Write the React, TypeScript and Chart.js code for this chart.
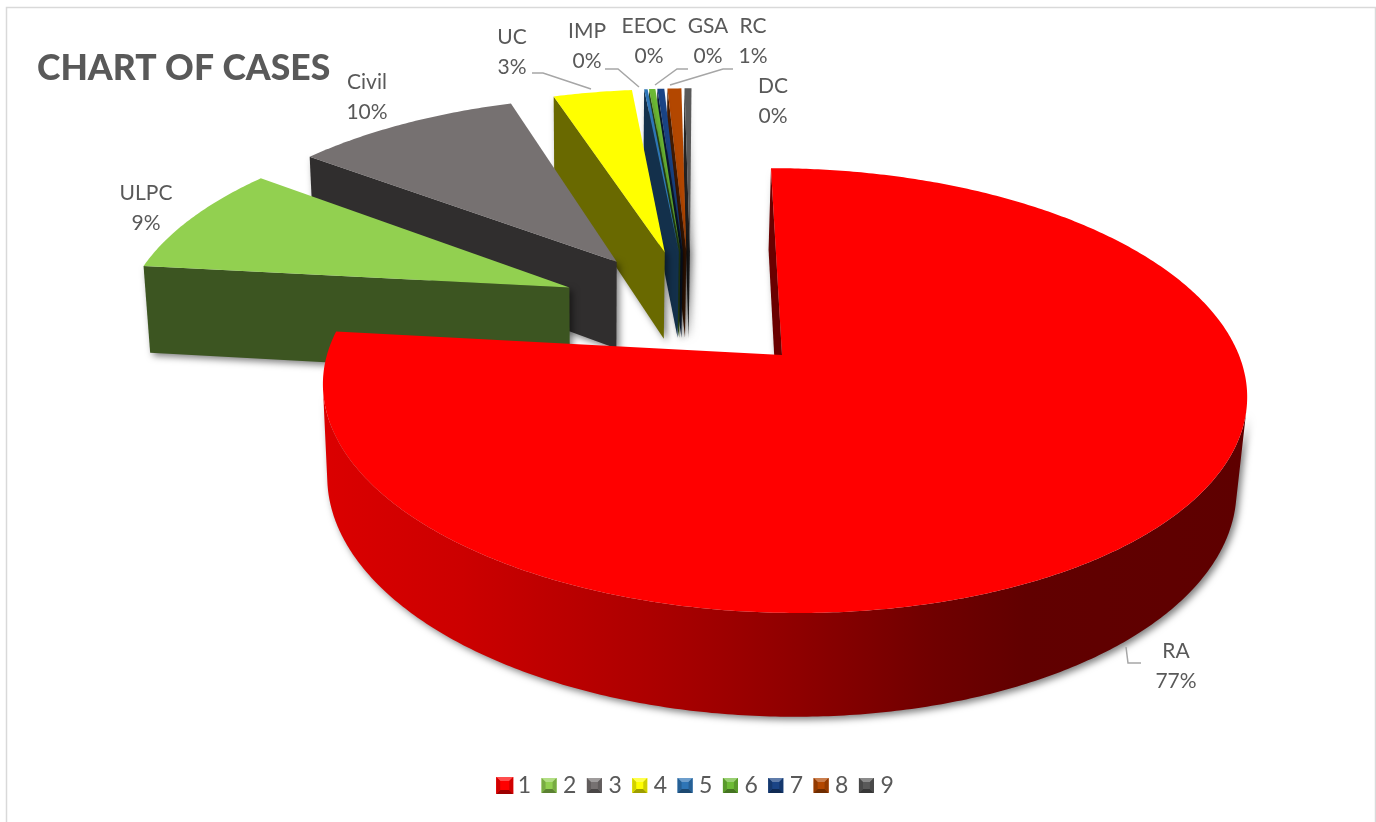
import React, { useEffect, useRef } from "react";
import { Chart, registerables } from "chart.js";

Chart.register(...registerables);

// Legend entries, case categories and their share of all cases (percent).
const legendKeys = ["1", "2", "3", "4", "5", "6", "7", "8", "9"];
const caseTypes = ["RA", "ULPC", "Civil", "UC", "IMP", "EEOC", "GSA", "RC", "DC"];
const caseShares = [76.9, 8.55, 9.7, 3.4, 0.15, 0.27, 0.3, 0.6, 0.3];
const sliceColors = ["#ff0000", "#92d050", "#767171", "#ffff00", "#2e75b6", "#6dbb35", "#1a4486", "#b34700", "#595959"];

// Two-line callouts: text centre, line rows, optional leader polyline.
const calloutStyle: { x: number; y: number; leader?: number[][] }[] = [
  { x: 1176, y: 651, leader: [[1126, 647], [1128, 663], [1141, 663]] },
  { x: 146, y: 193 },
  { x: 367, y: 82 },
  { x: 512, y: 37, leader: [[532, 73], [543, 73], [591, 89]] },
  { x: 587, y: 31, leader: [[605, 69], [618, 69], [639, 87]] },
  { x: 649, y: 26 },
  { x: 708, y: 26, leader: [[688, 69], [677, 69], [655, 85]] },
  { x: 753, y: 26, leader: [[733, 69], [723, 69], [670, 85]] },
  { x: 773, y: 86 },
];

const EXPLODE = 0.302;
const SATELLITE_RADIUS = 1.015;
const SATELLITE_SHIFT = { u: 0, v: 0.009 };
const LINE_GAP = 30;
const FONT = "Lato, 'Noto Sans', sans-serif";

// Camera: maps a point on the unit pie (u right, v towards viewer, z down) to the canvas.
const cam = { x0: 782, y0: 355, a: 456, b: 216.7, s: 12.8, p: 0.16, q: 0.002, r: 0.016, d: 93, t: -3 };
function project(u: number, v: number, z: number): [number, number] {
  const w = 1 - cam.p * v - cam.q * u + cam.r * z;
  return [cam.x0 + (cam.a * u + cam.s * v + cam.t * z) / w, cam.y0 + (cam.b * v + cam.d * z) / w];
}

function scaleColor(hex: string, f: number) {
  const n = parseInt(hex.slice(1), 16);
  const c = [(n >> 16) & 255, (n >> 8) & 255, n & 255].map((x) =>
    Math.round(f <= 1 ? x * f : x + (255 - x) * (f - 1))
  );
  return `rgb(${c[0]},${c[1]},${c[2]})`;
}

function tracePolygon(ctx: CanvasRenderingContext2D, pts: [number, number][]) {
  ctx.beginPath();
  pts.forEach((p, i) => (i ? ctx.lineTo(p[0], p[1]) : ctx.moveTo(p[0], p[1])));
  ctx.closePath();
}

function withShadow(ctx: CanvasRenderingContext2D, paint: () => void) {
  ctx.save();
  ctx.shadowColor = "rgba(0,0,0,0.5)";
  ctx.shadowBlur = 7;
  ctx.shadowOffsetX = 3;
  ctx.shadowOffsetY = 3;
  paint();
  ctx.restore();
}

const pie3d = {
  id: "pie3d",
  beforeDatasetsDraw(chart: any) {
    const ctx: CanvasRenderingContext2D = chart.ctx;
    const arcs = chart.getDatasetMeta(0).data;
    const midOf = (arc: any) => (arc.startAngle + arc.endAngle) / 2;
    const baseMid = midOf(arcs[0]);
    const baseU = EXPLODE * Math.cos(baseMid);
    const baseV = EXPLODE * Math.sin(baseMid);

    for (let i = arcs.length - 1; i >= 0; i--) {
      const arc = arcs[i];
      const color = sliceColors[i];
      const mid = midOf(arc);
      const cu = EXPLODE * Math.cos(mid) - baseU + (i === 0 ? 0 : SATELLITE_SHIFT.u);
      const cv = EXPLODE * Math.sin(mid) - baseV + (i === 0 ? 0 : SATELLITE_SHIFT.v);
      const radius = i === 0 ? 1 : SATELLITE_RADIUS;
      const at = (a: number, z: number) => project(cu + radius * Math.cos(a), cv + radius * Math.sin(a), z);
      const apex = (z: number) => project(cu, cv, z);

      const steps = Math.max(2, Math.ceil((arc.endAngle - arc.startAngle) / 0.01));
      const angles: number[] = [];
      for (let k = 0; k <= steps; k++) angles.push(arc.startAngle + ((arc.endAngle - arc.startAngle) * k) / steps);

      // Radial wall on the leading edge of the slice
      ctx.fillStyle = scaleColor(color, 0.41);
      withShadow(ctx, () => {
        tracePolygon(ctx, [at(arc.startAngle, 0), apex(0), apex(1), at(arc.startAngle, 1)]);
        ctx.fill();
      });

      // Curved outer wall: only the stretch that faces the camera
      const facing = angles.slice(0, -1).map((a, k) => {
        const t0 = at(a, 0);
        const t1 = at(angles[k + 1], 0);
        const b0 = at(a, 1);
        return (t1[0] - t0[0]) * (b0[1] - t0[1]) - (t1[1] - t0[1]) * (b0[0] - t0[0]) < 0;
      });
      const first = facing.indexOf(true);
      const last = facing.lastIndexOf(true);
      if (first >= 0) {
        const run = angles.slice(first, last + 2);
        const pts = [...run.map((a) => at(a, 0)), ...run.slice().reverse().map((a) => at(a, 1))];
        const grad = ctx.createLinearGradient(323, 0, 1247, 0);
        [[0, 0.86], [0.15, 0.8], [0.35, 0.68], [0.5, 0.57], [0.66, 0.44], [0.76, 0.38], [1, 0.37]].forEach(([o, f]) =>
          grad.addColorStop(o, scaleColor(color, f))
        );
        ctx.fillStyle = grad;
        withShadow(ctx, () => {
          tracePolygon(ctx, pts);
          ctx.fill();
        });
      }

      // Top face
      tracePolygon(ctx, [apex(0), ...angles.map((a) => at(a, 0))]);
      ctx.fillStyle = color;
      ctx.fill();
    }
    return false;
  },
  afterDraw(chart: any) {
    const ctx: CanvasRenderingContext2D = chart.ctx;
    const total = caseShares.reduce((s, v) => s + v, 0);
    ctx.save();

    // Callouts with their leader lines
    ctx.strokeStyle = "#a6a6a6";
    ctx.lineWidth = 1.5;
    ctx.font = `21px ${FONT}`;
    ctx.fillStyle = "#595959";
    ctx.textAlign = "center";
    ctx.textBaseline = "middle";
    caseTypes.forEach((name, i) => {
      const c = calloutStyle[i];
      if (c.leader) {
        ctx.beginPath();
        c.leader.forEach((p, k) => (k ? ctx.lineTo(p[0], p[1]) : ctx.moveTo(p[0], p[1])));
        ctx.stroke();
      }
      ctx.fillText(name, c.x, c.y);
      ctx.fillText(`${Math.round((caseShares[i] / total) * 100)}%`, c.x, c.y + LINE_GAP);
    });

    // Frame around the chart
    ctx.strokeStyle = "#d9d9d9";
    ctx.lineWidth = 1.5;
    ctx.beginPath();
    ctx.moveTo(6.5, 830);
    ctx.lineTo(6.5, 7.5);
    ctx.lineTo(1375.5, 7.5);
    ctx.lineTo(1375.5, 830);
    ctx.stroke();

    // Bevelled legend keys
    chart.legend.legendHitBoxes.forEach((box: any, i: number) => {
      const size = i === 0 ? 17 : 15;
      const x = box.left;
      const y = box.top + box.height / 2 - size / 2;
      const inset = 4;
      const col = sliceColors[i];
      ctx.fillStyle = col;
      ctx.fillRect(x, y, size, size);
      const r = x + size;
      const b = y + size;
      const face = (pts: [number, number][], fill: string) => {
        tracePolygon(ctx, pts);
        ctx.fillStyle = fill;
        ctx.fill();
      };
      face([[x, y], [r, y], [r - inset, y + inset], [x + inset, y + inset]], scaleColor(col, 1.3));
      face([[x, b], [r, b], [r - inset, b - inset], [x + inset, b - inset]], scaleColor(col, 0.62));
      face([[x, y], [x + inset, y + inset], [x + inset, b - inset], [x, b]], scaleColor(col, 0.82));
      face([[r, y], [r - inset, y + inset], [r - inset, b - inset], [r, b]], scaleColor(col, 0.82));
    });
    ctx.restore();
  },
};

export default function App() {
  const ref = useRef<HTMLCanvasElement>(null);
  useEffect(() => {
    document.body.style.margin = "0";
    document.body.style.background = "#ffffff";
    const chart = new Chart(ref.current!, {
      type: "pie",
      data: {
        labels: legendKeys,
        datasets: [{ data: caseShares, backgroundColor: sliceColors, borderWidth: 0 }],
      },
      plugins: [pie3d],
      options: {
        responsive: false,
        animation: false,
        layout: { padding: { left: 37, right: 23, top: 0, bottom: 15 } },
        plugins: {
          tooltip: { enabled: false },
          title: {
            display: true,
            text: "CHART OF CASES",
            align: "start",
            color: "#595959",
            font: { family: FONT, size: 35.5, weight: 900, lineHeight: 1 },
            padding: { top: 51, bottom: 0 },
          },
          legend: {
            display: true,
            position: "bottom",
            labels: {
              boxWidth: 10,
              boxHeight: 15,
              padding: 10.5,
              color: "#595959",
              font: { family: FONT, size: 23 },
              generateLabels: () =>
                legendKeys.map((text, index) => ({
                  text,
                  index,
                  fillStyle: "rgba(0,0,0,0)",
                  strokeStyle: "rgba(0,0,0,0)",
                  lineWidth: 0,
                  fontColor: "#595959",
                })),
            },
          },
        },
      },
    } as any);
    return () => chart.destroy();
  }, []);
  return (
    <div style={{ width: 1376, height: 822, overflow: "hidden", background: "#fff" }}>
      <canvas ref={ref} width={1376} height={822} style={{ display: "block" }} />
    </div>
  );
}
